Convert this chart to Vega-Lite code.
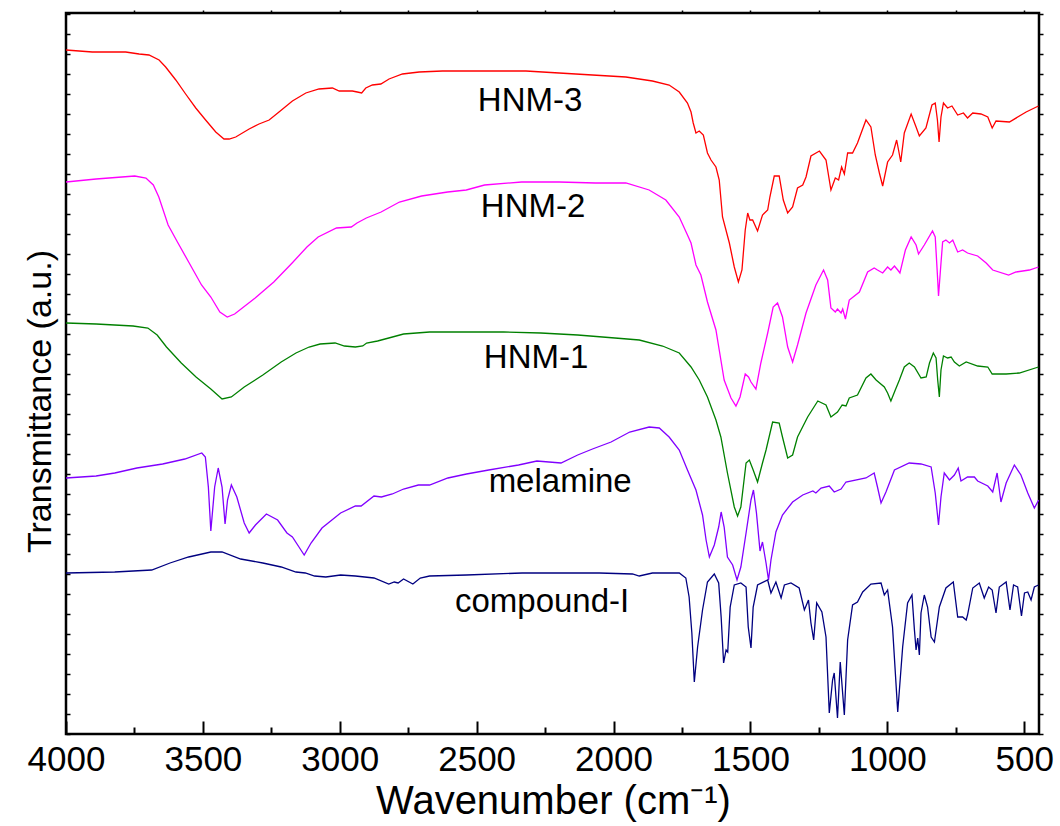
{
"$schema": "https://vega.github.io/schema/vega-lite/v6.json",
"width": 973, "height": 721,
"autosize": {"type": "none"},
"padding": {"left": 66, "top": 13, "right": 21, "bottom": 92},
"background": "white",
"config": {"view": {"stroke": "black", "strokeWidth": 2.5}, "font": "Liberation Sans",
 "axis": {"grid": false, "domain": false, "tickColor": "black", "labelColor": "black", "titleColor": "black", "labelFont": "Liberation Sans", "titleFont": "Liberation Sans", "titleFontWeight": "normal"}},
"resolve": {"axis": {"x": "independent", "y": "independent"}},
"layer": [
{"data": {"values": [
{"s":"HNM-3","w":4000,"t":684},{"s":"HNM-3","w":3904,"t":682},{"s":"HNM-3","w":3782,"t":682},{"s":"HNM-3","w":3733,"t":680},{"s":"HNM-3","w":3697,"t":679},{"s":"HNM-3","w":3660,"t":674},{"s":"HNM-3","w":3636,"t":667},{"s":"HNM-3","w":3599,"t":654},{"s":"HNM-3","w":3563,"t":640},{"s":"HNM-3","w":3526,"t":626},{"s":"HNM-3","w":3490,"t":614},{"s":"HNM-3","w":3453,"t":602},{"s":"HNM-3","w":3423,"t":595},{"s":"HNM-3","w":3404,"t":595},{"s":"HNM-3","w":3380,"t":597},{"s":"HNM-3","w":3331,"t":605},{"s":"HNM-3","w":3295,"t":610},{"s":"HNM-3","w":3258,"t":614},{"s":"HNM-3","w":3222,"t":622},{"s":"HNM-3","w":3173,"t":633},{"s":"HNM-3","w":3124,"t":641},{"s":"HNM-3","w":3076,"t":645},{"s":"HNM-3","w":3027,"t":646},{"s":"HNM-3","w":3002,"t":643},{"s":"HNM-3","w":2954,"t":643},{"s":"HNM-3","w":2936,"t":642},{"s":"HNM-3","w":2920,"t":641},{"s":"HNM-3","w":2905,"t":646},{"s":"HNM-3","w":2881,"t":649},{"s":"HNM-3","w":2850,"t":650},{"s":"HNM-3","w":2820,"t":655},{"s":"HNM-3","w":2771,"t":660},{"s":"HNM-3","w":2710,"t":662},{"s":"HNM-3","w":2625,"t":663},{"s":"HNM-3","w":2443,"t":663},{"s":"HNM-3","w":2320,"t":663},{"s":"HNM-3","w":2199,"t":661},{"s":"HNM-3","w":2077,"t":659},{"s":"HNM-3","w":1955,"t":657},{"s":"HNM-3","w":1858,"t":653},{"s":"HNM-3","w":1797,"t":649},{"s":"HNM-3","w":1760,"t":642},{"s":"HNM-3","w":1730,"t":631},{"s":"HNM-3","w":1717,"t":622},{"s":"HNM-3","w":1709,"t":611},{"s":"HNM-3","w":1699,"t":601},{"s":"HNM-3","w":1687,"t":603},{"s":"HNM-3","w":1672,"t":599},{"s":"HNM-3","w":1657,"t":581},{"s":"HNM-3","w":1644,"t":574},{"s":"HNM-3","w":1626,"t":567},{"s":"HNM-3","w":1614,"t":554},{"s":"HNM-3","w":1602,"t":517},{"s":"HNM-3","w":1577,"t":491},{"s":"HNM-3","w":1559,"t":467},{"s":"HNM-3","w":1544,"t":452},{"s":"HNM-3","w":1531,"t":464},{"s":"HNM-3","w":1519,"t":504},{"s":"HNM-3","w":1510,"t":521},{"s":"HNM-3","w":1502,"t":514},{"s":"HNM-3","w":1492,"t":514},{"s":"HNM-3","w":1474,"t":503},{"s":"HNM-3","w":1456,"t":519},{"s":"HNM-3","w":1437,"t":524},{"s":"HNM-3","w":1429,"t":537},{"s":"HNM-3","w":1413,"t":558},{"s":"HNM-3","w":1395,"t":558},{"s":"HNM-3","w":1380,"t":534},{"s":"HNM-3","w":1364,"t":521},{"s":"HNM-3","w":1346,"t":527},{"s":"HNM-3","w":1328,"t":546},{"s":"HNM-3","w":1309,"t":549},{"s":"HNM-3","w":1297,"t":557},{"s":"HNM-3","w":1279,"t":578},{"s":"HNM-3","w":1248,"t":583},{"s":"HNM-3","w":1224,"t":574},{"s":"HNM-3","w":1206,"t":544},{"s":"HNM-3","w":1190,"t":556},{"s":"HNM-3","w":1178,"t":554},{"s":"HNM-3","w":1167,"t":567},{"s":"HNM-3","w":1157,"t":560},{"s":"HNM-3","w":1145,"t":581},{"s":"HNM-3","w":1127,"t":581},{"s":"HNM-3","w":1109,"t":591},{"s":"HNM-3","w":1078,"t":614},{"s":"HNM-3","w":1060,"t":607},{"s":"HNM-3","w":1044,"t":579},{"s":"HNM-3","w":1029,"t":561},{"s":"HNM-3","w":1017,"t":548},{"s":"HNM-3","w":999,"t":572},{"s":"HNM-3","w":981,"t":579},{"s":"HNM-3","w":966,"t":594},{"s":"HNM-3","w":959,"t":584},{"s":"HNM-3","w":951,"t":572},{"s":"HNM-3","w":938,"t":601},{"s":"HNM-3","w":913,"t":620},{"s":"HNM-3","w":895,"t":607},{"s":"HNM-3","w":883,"t":598},{"s":"HNM-3","w":859,"t":606},{"s":"HNM-3","w":837,"t":629},{"s":"HNM-3","w":825,"t":631},{"s":"HNM-3","w":817,"t":614},{"s":"HNM-3","w":811,"t":592},{"s":"HNM-3","w":804,"t":617},{"s":"HNM-3","w":795,"t":631},{"s":"HNM-3","w":780,"t":626},{"s":"HNM-3","w":764,"t":628},{"s":"HNM-3","w":743,"t":619},{"s":"HNM-3","w":722,"t":621},{"s":"HNM-3","w":707,"t":616},{"s":"HNM-3","w":688,"t":621},{"s":"HNM-3","w":658,"t":620},{"s":"HNM-3","w":633,"t":617},{"s":"HNM-3","w":617,"t":606},{"s":"HNM-3","w":603,"t":613},{"s":"HNM-3","w":554,"t":612},{"s":"HNM-3","w":493,"t":622},{"s":"HNM-3","w":448,"t":628},
{"s":"HNM-2","w":4000,"t":552},{"s":"HNM-2","w":3890,"t":555},{"s":"HNM-2","w":3749,"t":558},{"s":"HNM-2","w":3708,"t":556},{"s":"HNM-2","w":3681,"t":549},{"s":"HNM-2","w":3661,"t":537},{"s":"HNM-2","w":3627,"t":509},{"s":"HNM-2","w":3593,"t":492},{"s":"HNM-2","w":3552,"t":472},{"s":"HNM-2","w":3505,"t":449},{"s":"HNM-2","w":3471,"t":437},{"s":"HNM-2","w":3438,"t":422},{"s":"HNM-2","w":3411,"t":417},{"s":"HNM-2","w":3384,"t":420},{"s":"HNM-2","w":3309,"t":436},{"s":"HNM-2","w":3241,"t":452},{"s":"HNM-2","w":3174,"t":471},{"s":"HNM-2","w":3120,"t":487},{"s":"HNM-2","w":3079,"t":497},{"s":"HNM-2","w":3012,"t":506},{"s":"HNM-2","w":2958,"t":507},{"s":"HNM-2","w":2937,"t":511},{"s":"HNM-2","w":2903,"t":516},{"s":"HNM-2","w":2849,"t":522},{"s":"HNM-2","w":2782,"t":532},{"s":"HNM-2","w":2701,"t":538},{"s":"HNM-2","w":2606,"t":542},{"s":"HNM-2","w":2538,"t":544},{"s":"HNM-2","w":2471,"t":549},{"s":"HNM-2","w":2336,"t":552},{"s":"HNM-2","w":2268,"t":552},{"s":"HNM-2","w":2199,"t":552},{"s":"HNM-2","w":2066,"t":551},{"s":"HNM-2","w":1955,"t":551},{"s":"HNM-2","w":1870,"t":544},{"s":"HNM-2","w":1809,"t":534},{"s":"HNM-2","w":1760,"t":517},{"s":"HNM-2","w":1730,"t":499},{"s":"HNM-2","w":1717,"t":491},{"s":"HNM-2","w":1699,"t":469},{"s":"HNM-2","w":1681,"t":459},{"s":"HNM-2","w":1657,"t":432},{"s":"HNM-2","w":1626,"t":404},{"s":"HNM-2","w":1614,"t":384},{"s":"HNM-2","w":1596,"t":354},{"s":"HNM-2","w":1571,"t":336},{"s":"HNM-2","w":1553,"t":328},{"s":"HNM-2","w":1538,"t":337},{"s":"HNM-2","w":1519,"t":360},{"s":"HNM-2","w":1507,"t":357},{"s":"HNM-2","w":1498,"t":352},{"s":"HNM-2","w":1480,"t":345},{"s":"HNM-2","w":1462,"t":371},{"s":"HNM-2","w":1437,"t":401},{"s":"HNM-2","w":1417,"t":427},{"s":"HNM-2","w":1401,"t":431},{"s":"HNM-2","w":1383,"t":417},{"s":"HNM-2","w":1364,"t":387},{"s":"HNM-2","w":1346,"t":372},{"s":"HNM-2","w":1328,"t":389},{"s":"HNM-2","w":1297,"t":421},{"s":"HNM-2","w":1261,"t":449},{"s":"HNM-2","w":1233,"t":464},{"s":"HNM-2","w":1218,"t":454},{"s":"HNM-2","w":1206,"t":426},{"s":"HNM-2","w":1190,"t":422},{"s":"HNM-2","w":1182,"t":425},{"s":"HNM-2","w":1169,"t":421},{"s":"HNM-2","w":1163,"t":425},{"s":"HNM-2","w":1153,"t":415},{"s":"HNM-2","w":1139,"t":434},{"s":"HNM-2","w":1102,"t":442},{"s":"HNM-2","w":1072,"t":462},{"s":"HNM-2","w":1048,"t":466},{"s":"HNM-2","w":1036,"t":464},{"s":"HNM-2","w":1017,"t":461},{"s":"HNM-2","w":999,"t":467},{"s":"HNM-2","w":987,"t":464},{"s":"HNM-2","w":974,"t":468},{"s":"HNM-2","w":962,"t":464},{"s":"HNM-2","w":954,"t":461},{"s":"HNM-2","w":934,"t":484},{"s":"HNM-2","w":913,"t":497},{"s":"HNM-2","w":895,"t":489},{"s":"HNM-2","w":886,"t":480},{"s":"HNM-2","w":865,"t":489},{"s":"HNM-2","w":835,"t":503},{"s":"HNM-2","w":825,"t":497},{"s":"HNM-2","w":816,"t":454},{"s":"HNM-2","w":813,"t":438},{"s":"HNM-2","w":804,"t":471},{"s":"HNM-2","w":798,"t":492},{"s":"HNM-2","w":786,"t":494},{"s":"HNM-2","w":773,"t":491},{"s":"HNM-2","w":761,"t":494},{"s":"HNM-2","w":743,"t":482},{"s":"HNM-2","w":725,"t":484},{"s":"HNM-2","w":707,"t":481},{"s":"HNM-2","w":670,"t":478},{"s":"HNM-2","w":639,"t":471},{"s":"HNM-2","w":615,"t":464},{"s":"HNM-2","w":557,"t":459},{"s":"HNM-2","w":530,"t":462},{"s":"HNM-2","w":481,"t":464},{"s":"HNM-2","w":448,"t":467},
{"s":"HNM-1","w":4000,"t":411},{"s":"HNM-1","w":3890,"t":410},{"s":"HNM-1","w":3755,"t":408},{"s":"HNM-1","w":3701,"t":406},{"s":"HNM-1","w":3667,"t":399},{"s":"HNM-1","w":3633,"t":387},{"s":"HNM-1","w":3579,"t":371},{"s":"HNM-1","w":3525,"t":357},{"s":"HNM-1","w":3471,"t":345},{"s":"HNM-1","w":3430,"t":335},{"s":"HNM-1","w":3396,"t":337},{"s":"HNM-1","w":3349,"t":347},{"s":"HNM-1","w":3281,"t":359},{"s":"HNM-1","w":3214,"t":372},{"s":"HNM-1","w":3160,"t":381},{"s":"HNM-1","w":3112,"t":387},{"s":"HNM-1","w":3072,"t":390},{"s":"HNM-1","w":3017,"t":391},{"s":"HNM-1","w":2983,"t":388},{"s":"HNM-1","w":2943,"t":387},{"s":"HNM-1","w":2916,"t":388},{"s":"HNM-1","w":2902,"t":391},{"s":"HNM-1","w":2862,"t":393},{"s":"HNM-1","w":2821,"t":396},{"s":"HNM-1","w":2767,"t":400},{"s":"HNM-1","w":2672,"t":402},{"s":"HNM-1","w":2537,"t":402},{"s":"HNM-1","w":2402,"t":402},{"s":"HNM-1","w":2266,"t":401},{"s":"HNM-1","w":2131,"t":399},{"s":"HNM-1","w":1995,"t":396},{"s":"HNM-1","w":1906,"t":394},{"s":"HNM-1","w":1821,"t":388},{"s":"HNM-1","w":1760,"t":381},{"s":"HNM-1","w":1717,"t":367},{"s":"HNM-1","w":1687,"t":354},{"s":"HNM-1","w":1657,"t":337},{"s":"HNM-1","w":1626,"t":314},{"s":"HNM-1","w":1608,"t":297},{"s":"HNM-1","w":1584,"t":261},{"s":"HNM-1","w":1559,"t":227},{"s":"HNM-1","w":1547,"t":218},{"s":"HNM-1","w":1535,"t":227},{"s":"HNM-1","w":1516,"t":271},{"s":"HNM-1","w":1504,"t":274},{"s":"HNM-1","w":1490,"t":264},{"s":"HNM-1","w":1474,"t":252},{"s":"HNM-1","w":1456,"t":271},{"s":"HNM-1","w":1443,"t":284},{"s":"HNM-1","w":1419,"t":312},{"s":"HNM-1","w":1395,"t":311},{"s":"HNM-1","w":1383,"t":297},{"s":"HNM-1","w":1364,"t":276},{"s":"HNM-1","w":1346,"t":279},{"s":"HNM-1","w":1328,"t":297},{"s":"HNM-1","w":1291,"t":317},{"s":"HNM-1","w":1254,"t":333},{"s":"HNM-1","w":1224,"t":329},{"s":"HNM-1","w":1206,"t":317},{"s":"HNM-1","w":1182,"t":322},{"s":"HNM-1","w":1165,"t":329},{"s":"HNM-1","w":1151,"t":328},{"s":"HNM-1","w":1139,"t":336},{"s":"HNM-1","w":1109,"t":339},{"s":"HNM-1","w":1078,"t":356},{"s":"HNM-1","w":1060,"t":360},{"s":"HNM-1","w":1041,"t":354},{"s":"HNM-1","w":1011,"t":347},{"s":"HNM-1","w":999,"t":341},{"s":"HNM-1","w":987,"t":333},{"s":"HNM-1","w":971,"t":344},{"s":"HNM-1","w":956,"t":354},{"s":"HNM-1","w":938,"t":367},{"s":"HNM-1","w":920,"t":371},{"s":"HNM-1","w":901,"t":367},{"s":"HNM-1","w":877,"t":356},{"s":"HNM-1","w":858,"t":357},{"s":"HNM-1","w":846,"t":371},{"s":"HNM-1","w":832,"t":381},{"s":"HNM-1","w":822,"t":376},{"s":"HNM-1","w":816,"t":354},{"s":"HNM-1","w":810,"t":337},{"s":"HNM-1","w":804,"t":364},{"s":"HNM-1","w":795,"t":378},{"s":"HNM-1","w":780,"t":376},{"s":"HNM-1","w":767,"t":377},{"s":"HNM-1","w":755,"t":372},{"s":"HNM-1","w":737,"t":368},{"s":"HNM-1","w":712,"t":372},{"s":"HNM-1","w":670,"t":368},{"s":"HNM-1","w":633,"t":367},{"s":"HNM-1","w":617,"t":360},{"s":"HNM-1","w":566,"t":360},{"s":"HNM-1","w":518,"t":361},{"s":"HNM-1","w":448,"t":367},
{"s":"melamine","w":4000,"t":256},{"s":"melamine","w":3890,"t":258},{"s":"melamine","w":3822,"t":261},{"s":"melamine","w":3741,"t":266},{"s":"melamine","w":3647,"t":270},{"s":"melamine","w":3566,"t":275},{"s":"melamine","w":3504,"t":281},{"s":"melamine","w":3491,"t":277},{"s":"melamine","w":3480,"t":247},{"s":"melamine","w":3471,"t":203},{"s":"melamine","w":3457,"t":247},{"s":"melamine","w":3444,"t":266},{"s":"melamine","w":3430,"t":247},{"s":"melamine","w":3419,"t":210},{"s":"melamine","w":3410,"t":234},{"s":"melamine","w":3396,"t":249},{"s":"melamine","w":3376,"t":237},{"s":"melamine","w":3349,"t":211},{"s":"melamine","w":3331,"t":201},{"s":"melamine","w":3308,"t":209},{"s":"melamine","w":3268,"t":220},{"s":"melamine","w":3227,"t":214},{"s":"melamine","w":3193,"t":201},{"s":"melamine","w":3173,"t":197},{"s":"melamine","w":3149,"t":187},{"s":"melamine","w":3130,"t":179},{"s":"melamine","w":3105,"t":191},{"s":"melamine","w":3065,"t":206},{"s":"melamine","w":2997,"t":221},{"s":"melamine","w":2943,"t":228},{"s":"melamine","w":2922,"t":228},{"s":"melamine","w":2875,"t":238},{"s":"melamine","w":2848,"t":237},{"s":"melamine","w":2808,"t":240},{"s":"melamine","w":2767,"t":245},{"s":"melamine","w":2713,"t":249},{"s":"melamine","w":2672,"t":249},{"s":"melamine","w":2605,"t":256},{"s":"melamine","w":2537,"t":260},{"s":"melamine","w":2456,"t":264},{"s":"melamine","w":2347,"t":269},{"s":"melamine","w":2280,"t":273},{"s":"melamine","w":2192,"t":271},{"s":"melamine","w":2131,"t":279},{"s":"melamine","w":2077,"t":285},{"s":"melamine","w":2009,"t":292},{"s":"melamine","w":1941,"t":302},{"s":"melamine","w":1870,"t":307},{"s":"melamine","w":1833,"t":306},{"s":"melamine","w":1797,"t":297},{"s":"melamine","w":1760,"t":284},{"s":"melamine","w":1730,"t":264},{"s":"melamine","w":1699,"t":244},{"s":"melamine","w":1675,"t":219},{"s":"melamine","w":1662,"t":194},{"s":"melamine","w":1650,"t":177},{"s":"melamine","w":1632,"t":189},{"s":"melamine","w":1616,"t":207},{"s":"melamine","w":1607,"t":222},{"s":"melamine","w":1596,"t":207},{"s":"melamine","w":1584,"t":177},{"s":"melamine","w":1565,"t":169},{"s":"melamine","w":1549,"t":154},{"s":"melamine","w":1535,"t":167},{"s":"melamine","w":1516,"t":201},{"s":"melamine","w":1498,"t":234},{"s":"melamine","w":1489,"t":244},{"s":"melamine","w":1478,"t":221},{"s":"melamine","w":1465,"t":183},{"s":"melamine","w":1456,"t":192},{"s":"melamine","w":1443,"t":171},{"s":"melamine","w":1434,"t":154},{"s":"melamine","w":1425,"t":174},{"s":"melamine","w":1407,"t":202},{"s":"melamine","w":1383,"t":219},{"s":"melamine","w":1346,"t":232},{"s":"melamine","w":1309,"t":239},{"s":"melamine","w":1272,"t":243},{"s":"melamine","w":1261,"t":241},{"s":"melamine","w":1242,"t":246},{"s":"melamine","w":1212,"t":248},{"s":"melamine","w":1194,"t":242},{"s":"melamine","w":1169,"t":245},{"s":"melamine","w":1151,"t":252},{"s":"melamine","w":1078,"t":256},{"s":"melamine","w":1048,"t":261},{"s":"melamine","w":1036,"t":247},{"s":"melamine","w":1023,"t":231},{"s":"melamine","w":1005,"t":242},{"s":"melamine","w":974,"t":264},{"s":"melamine","w":920,"t":271},{"s":"melamine","w":877,"t":270},{"s":"melamine","w":840,"t":267},{"s":"melamine","w":825,"t":241},{"s":"melamine","w":813,"t":209},{"s":"melamine","w":804,"t":237},{"s":"melamine","w":792,"t":261},{"s":"melamine","w":773,"t":254},{"s":"melamine","w":755,"t":259},{"s":"melamine","w":741,"t":266},{"s":"melamine","w":731,"t":253},{"s":"melamine","w":707,"t":257},{"s":"melamine","w":682,"t":257},{"s":"melamine","w":670,"t":253},{"s":"melamine","w":633,"t":248},{"s":"melamine","w":615,"t":242},{"s":"melamine","w":599,"t":261},{"s":"melamine","w":585,"t":232},{"s":"melamine","w":566,"t":251},{"s":"melamine","w":536,"t":269},{"s":"melamine","w":512,"t":259},{"s":"melamine","w":487,"t":241},{"s":"melamine","w":463,"t":226},{"s":"melamine","w":447,"t":234},
{"s":"compound-I","w":4000,"t":161},{"s":"compound-I","w":3822,"t":162},{"s":"compound-I","w":3687,"t":164},{"s":"compound-I","w":3620,"t":171},{"s":"compound-I","w":3552,"t":177},{"s":"compound-I","w":3471,"t":182},{"s":"compound-I","w":3430,"t":182},{"s":"compound-I","w":3362,"t":175},{"s":"compound-I","w":3281,"t":171},{"s":"compound-I","w":3214,"t":167},{"s":"compound-I","w":3160,"t":162},{"s":"compound-I","w":3126,"t":161},{"s":"compound-I","w":3092,"t":158},{"s":"compound-I","w":3051,"t":157},{"s":"compound-I","w":2997,"t":159},{"s":"compound-I","w":2943,"t":158},{"s":"compound-I","w":2875,"t":156},{"s":"compound-I","w":2821,"t":150},{"s":"compound-I","w":2801,"t":152},{"s":"compound-I","w":2787,"t":151},{"s":"compound-I","w":2767,"t":155},{"s":"compound-I","w":2733,"t":150},{"s":"compound-I","w":2706,"t":156},{"s":"compound-I","w":2672,"t":158},{"s":"compound-I","w":2537,"t":159},{"s":"compound-I","w":2334,"t":161},{"s":"compound-I","w":2131,"t":161},{"s":"compound-I","w":2052,"t":161},{"s":"compound-I","w":1931,"t":160},{"s":"compound-I","w":1906,"t":158},{"s":"compound-I","w":1858,"t":161},{"s":"compound-I","w":1760,"t":161},{"s":"compound-I","w":1736,"t":156},{"s":"compound-I","w":1724,"t":137},{"s":"compound-I","w":1714,"t":101},{"s":"compound-I","w":1705,"t":52},{"s":"compound-I","w":1693,"t":87},{"s":"compound-I","w":1675,"t":124},{"s":"compound-I","w":1657,"t":152},{"s":"compound-I","w":1632,"t":160},{"s":"compound-I","w":1616,"t":151},{"s":"compound-I","w":1607,"t":117},{"s":"compound-I","w":1598,"t":71},{"s":"compound-I","w":1589,"t":84},{"s":"compound-I","w":1583,"t":82},{"s":"compound-I","w":1574,"t":127},{"s":"compound-I","w":1559,"t":149},{"s":"compound-I","w":1535,"t":151},{"s":"compound-I","w":1516,"t":147},{"s":"compound-I","w":1508,"t":107},{"s":"compound-I","w":1498,"t":86},{"s":"compound-I","w":1490,"t":127},{"s":"compound-I","w":1474,"t":149},{"s":"compound-I","w":1437,"t":154},{"s":"compound-I","w":1425,"t":141},{"s":"compound-I","w":1407,"t":152},{"s":"compound-I","w":1388,"t":136},{"s":"compound-I","w":1376,"t":149},{"s":"compound-I","w":1352,"t":151},{"s":"compound-I","w":1322,"t":146},{"s":"compound-I","w":1303,"t":124},{"s":"compound-I","w":1288,"t":134},{"s":"compound-I","w":1279,"t":111},{"s":"compound-I","w":1269,"t":94},{"s":"compound-I","w":1258,"t":131},{"s":"compound-I","w":1239,"t":122},{"s":"compound-I","w":1224,"t":97},{"s":"compound-I","w":1212,"t":21},{"s":"compound-I","w":1200,"t":54},{"s":"compound-I","w":1194,"t":61},{"s":"compound-I","w":1182,"t":16},{"s":"compound-I","w":1172,"t":72},{"s":"compound-I","w":1157,"t":19},{"s":"compound-I","w":1145,"t":94},{"s":"compound-I","w":1127,"t":129},{"s":"compound-I","w":1109,"t":132},{"s":"compound-I","w":1090,"t":142},{"s":"compound-I","w":1060,"t":150},{"s":"compound-I","w":1023,"t":151},{"s":"compound-I","w":1011,"t":139},{"s":"compound-I","w":999,"t":144},{"s":"compound-I","w":981,"t":107},{"s":"compound-I","w":962,"t":22},{"s":"compound-I","w":944,"t":87},{"s":"compound-I","w":926,"t":131},{"s":"compound-I","w":910,"t":139},{"s":"compound-I","w":901,"t":104},{"s":"compound-I","w":895,"t":84},{"s":"compound-I","w":889,"t":96},{"s":"compound-I","w":883,"t":79},{"s":"compound-I","w":877,"t":121},{"s":"compound-I","w":865,"t":139},{"s":"compound-I","w":853,"t":127},{"s":"compound-I","w":840,"t":97},{"s":"compound-I","w":828,"t":92},{"s":"compound-I","w":810,"t":127},{"s":"compound-I","w":786,"t":146},{"s":"compound-I","w":759,"t":152},{"s":"compound-I","w":743,"t":117},{"s":"compound-I","w":725,"t":117},{"s":"compound-I","w":712,"t":114},{"s":"compound-I","w":707,"t":119},{"s":"compound-I","w":688,"t":146},{"s":"compound-I","w":664,"t":151},{"s":"compound-I","w":646,"t":136},{"s":"compound-I","w":630,"t":147},{"s":"compound-I","w":617,"t":144},{"s":"compound-I","w":603,"t":121},{"s":"compound-I","w":591,"t":147},{"s":"compound-I","w":566,"t":152},{"s":"compound-I","w":552,"t":124},{"s":"compound-I","w":539,"t":149},{"s":"compound-I","w":524,"t":147},{"s":"compound-I","w":510,"t":118},{"s":"compound-I","w":499,"t":141},{"s":"compound-I","w":487,"t":142},{"s":"compound-I","w":475,"t":134},{"s":"compound-I","w":463,"t":147},{"s":"compound-I","w":448,"t":149}
]},
 "mark": {"type": "line", "strokeWidth": 1.3, "clip": true},
 "encoding": {
  "x": {"field": "w", "type": "quantitative", "scale": {"domain": [446, 4000], "reverse": true, "nice": false, "zero": false},
   "axis": {"orient": "bottom", "values": [4000, 3500, 3000, 2500, 2000, 1500, 1000, 500], "format": "d", "tickSize": -13, "tickWidth": 2, "labelFontSize": 35, "labelFlush": false, "labelOverlap": false, "labelBound": false, "labelBaseline": "alphabetic", "labelPadding": 49, "title": "Wavenumber (cm⁻¹)", "titleFontSize": 40, "titleBaseline": "alphabetic", "titleY": 79, "titleX": 487, "titleAlign": "center"}},
  "y": {"field": "t", "type": "quantitative", "scale": {"domain": [0, 721], "nice": false, "zero": false},
   "axis": {"orient": "left", "values": [0,20,40,60,80,100,120,140,160,180,200,220,240,260,280,300,320,340,360,380,400,420,440,460,480,500,520,540,560,580,600,620,640,660,680,700,720], "tickSize": -4, "tickWidth": 1.5, "labels": false, "title": "Transmittance (a.u.)", "titleFontSize": 34, "titleAngle": -90, "titleAlign": "center", "titleBaseline": "alphabetic", "titleX": -16, "titleY": 388}},
  "color": {"field": "s", "type": "nominal", "scale": {"domain": ["HNM-3", "HNM-2", "HNM-1", "melamine", "compound-I"], "range": ["#FF0000", "#FF00FF", "#008000", "#8000FF", "#000080"]}, "legend": null}
 }},
{"data": {"values": [
 {"label": "HNM-3", "w": 2305, "t": 623},
 {"label": "HNM-2", "w": 2294, "t": 517},
 {"label": "HNM-1", "w": 2283, "t": 366}
]},
 "mark": {"type": "text", "fontSize": 33, "font": "Liberation Sans", "color": "black", "align": "center", "baseline": "alphabetic"},
 "encoding": {
  "x": {"field": "w", "type": "quantitative", "axis": {"orient": "bottom", "values": [3750, 3250, 2750, 2250, 1750, 1250, 750], "tickSize": -7, "tickWidth": 2, "labels": false, "title": null}},
  "y": {"field": "t", "type": "quantitative", "axis": {"orient": "right", "values": [0,20,40,60,80,100,120,140,160,180,200,220,240,260,280,300,320,340,360,380,400,420,440,460,480,500,520,540,560,580,600,620,640,660,680,700,720], "tickSize": 4, "tickWidth": 1.5, "labels": false, "title": null}},
  "text": {"field": "label"}
 }},
{"data": {"values": [
 {"label": "melamine", "w": 2195, "t": 242},
 {"label": "compound-I", "w": 2261, "t": 122}
]},
 "mark": {"type": "text", "fontSize": 33, "font": "Liberation Sans", "color": "black", "align": "center", "baseline": "alphabetic"},
 "encoding": {
  "x": {"field": "w", "type": "quantitative", "axis": {"orient": "top", "values": [3750, 3500, 3250, 3000, 2750, 2500, 2250, 2000, 1750, 1500, 1250, 1000, 750, 500], "tickSize": 3, "tickWidth": 1.5, "labels": false, "title": null}},
  "y": {"field": "t", "type": "quantitative", "axis": null},
  "text": {"field": "label"}
 }}
]
}
